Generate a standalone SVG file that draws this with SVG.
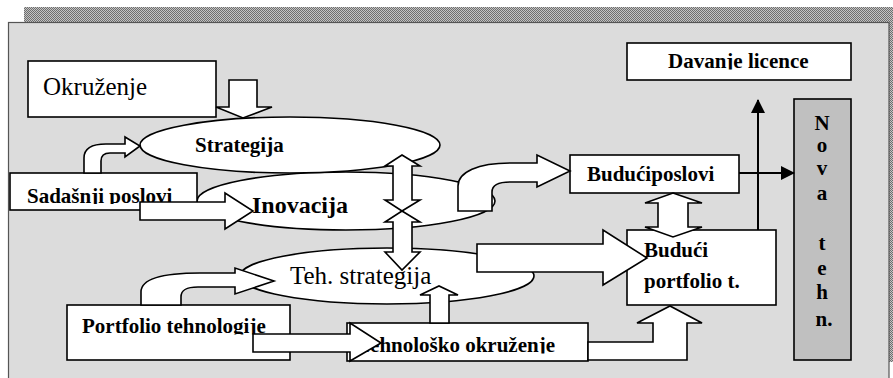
<svg xmlns="http://www.w3.org/2000/svg" width="893" height="378" viewBox="0 0 893 378">
  <defs>
    <pattern id="dots" width="2" height="2" patternUnits="userSpaceOnUse">
      <rect width="2" height="2" fill="#c4c4c4"/>
      <rect x="0" y="0" width="1" height="1" fill="#6e6e6e"/>
      <rect x="1" y="1" width="1" height="1" fill="#6e6e6e"/>
    </pattern>
    <clipPath id="clipSad"><rect x="10" y="170" width="190" height="34"/></clipPath>
    <clipPath id="clipPort"><rect x="67" y="300" width="225" height="34.5"/></clipPath>
    <clipPath id="clipTeh"><rect x="347" y="320" width="242" height="33.5"/></clipPath>
    <clipPath id="clipDav"><rect x="627" y="40" width="225" height="29.5"/></clipPath>
    <marker id="ah" viewBox="0 0 14 14" refX="13" refY="7" markerWidth="14" markerHeight="14" markerUnits="userSpaceOnUse" orient="auto">
      <path d="M0,0 L14,7 L0,14 Z" fill="#000"/>
    </marker>
  </defs>
  <style>
    .box { fill: #ffffff; stroke: #000; stroke-width: 1.6; }
    .ell { fill: #ffffff; stroke: #000; stroke-width: 1.6; }
    .blk { fill: #ffffff; stroke: #000; stroke-width: 1.6; stroke-linejoin: miter; }
    .ln { fill: none; stroke: #000; stroke-width: 2; }
    .b { font-family: "Liberation Serif", "Times New Roman", serif; font-weight: bold; font-size: 21px; fill: #000; }
    .r { font-family: "Liberation Serif", "Times New Roman", serif; font-size: 25px; fill: #000; }
    .nv { font-family: "Liberation Serif", "Times New Roman", serif; font-weight: bold; font-size: 21px; fill: #000; text-anchor: middle; }
  </style>

  <!-- background panel with dotted shadow -->
  <rect x="0" y="0" width="893" height="378" fill="#ffffff"/>
  <rect x="24" y="7" width="869" height="15" fill="url(#dots)"/>
  <rect x="889" y="7" width="4" height="355" fill="url(#dots)"/>
  <rect x="8.5" y="22.5" width="880.5" height="360" fill="#dcdcdc" stroke="#555" stroke-width="1.2"/>

  <g id="okruzenje">
    <rect class="box" x="28" y="61" width="188" height="56"/>
    <text class="r" x="43" y="95">Okruženje</text>
  </g>

  <g id="inovacija">
    <ellipse class="ell" cx="346" cy="201" rx="149" ry="29"/>
  </g>

  <g id="strategija">
    <ellipse class="ell" cx="290" cy="145" rx="150" ry="28"/>
    <text class="b" x="195" y="152">Strategija</text>
  </g>

  <g id="teh-strategija">
    <ellipse class="ell" cx="387" cy="276" rx="147" ry="28"/>
    <text class="r" x="290" y="284">Teh. strategija</text>
  </g>

  <g id="sadasnji-poslovi">
    <rect class="box" x="10" y="173" width="187" height="37"/>
    <text class="b" x="27" y="203" clip-path="url(#clipSad)">Sadašnji poslovi</text>
  </g>

  <g id="portfolio-tehnologije">
    <rect class="box" x="67" y="305" width="223" height="55"/>
    <text class="b" x="82" y="333" clip-path="url(#clipPort)">Portfolio tehnologije</text>
  </g>

  <g id="tehnolosko-okruzenje">
    <rect class="box" x="347" y="323" width="241" height="38"/>
    <text class="b" x="358" y="352" clip-path="url(#clipTeh)">Tehnološko okruženje</text>
  </g>

  <g id="davanje-licence">
    <rect class="box" x="627" y="43" width="224" height="37"/>
    <text class="b" x="668" y="68" clip-path="url(#clipDav)">Davanje licence</text>
  </g>

  <g id="buduci-poslovi">
    <rect class="box" x="570" y="155" width="169" height="38"/>
    <text class="b" x="587" y="181">Budućiposlovi</text>
  </g>

  <g id="buduci-portfolio">
    <rect class="box" x="627" y="230" width="149" height="75"/>
  </g>

  <g id="nova-tehn">
    <rect x="794" y="99" width="57" height="261" fill="#c0c0c0" stroke="#000" stroke-width="1.6"/>
    <text class="nv" x="822" y="130">N</text>
    <text class="nv" x="822" y="152">o</text>
    <text class="nv" x="822" y="175">v</text>
    <text class="nv" x="822" y="200">a</text>
    <text class="nv" x="822" y="250">t</text>
    <text class="nv" x="822" y="275">e</text>
    <text class="nv" x="822" y="299">h</text>
    <text class="nv" x="824" y="326">n.</text>
  </g>

  <g id="connectors">
    <!-- Okruzenje -> Strategija -->
    <path class="blk" d="M229,80 H257 V107 H272 L243,118 L216,107 H229 Z"/>
    <!-- Sadasnji -> Strategija (curved) -->
    <path class="blk" d="M84,173 V158 C84,148 92,144 106,144 H125 V137 L140,146 L125,157 V153 H110 C104,153 101,155 101,161 V173 Z"/>
    <!-- Sadasnji -> Inovacija -->
    <path class="blk" d="M140,202 H225 V193 L253,211 L225,229 V220 H140 Z"/>
    <!-- Inovacija -> Buduci poslovi (curved) -->
    <path class="blk" d="M458,211 V186 C458,172 478,163 510,163 H537 V155 L570,171 L537,187 V182 H510 C498,182 492,185 492,192 V211 Z"/>
    <!-- Portfolio -> Teh. strategija (curved) -->
    <path class="blk" d="M141,305 V292 C141,280 160,273 200,273 H235 V268 L274,281 L235,294 V287 H198 C186,287 181,290 181,297 V305 Z"/>
    <!-- Teh. strategija -> Buduci portfolio -->
    <path class="blk" d="M477,244 H603 V230 L647,258 L603,285 V272 H477 Z"/>
    <!-- Portfolio -> Tehnolosko -->
    <path class="blk" d="M253,334 H350 V323 L381,343 L350,361 V352 H253 Z"/>
    <!-- Tehnolosko -> Teh. strategija -->
    <path class="blk" d="M430,323 V295 H420 L439,286 L458,295 H449 V323 Z"/>
    <!-- Tehnolosko -> Buduci portfolio (bent) -->
    <path class="blk" d="M588,342 H653 V323 H637 L670,306 L702,323 H687 V360 H588 Z"/>
    <!-- Strategija <-> Inovacija -->
    <path class="blk" d="M402,155 L420,166 H412 V200 H420 L402,211 L385,200 H393 V166 H385 Z"/>
    <!-- Inovacija <-> Teh. strategija -->
    <path class="blk" d="M402,211 L420,222 H412 V252 H420 L402,270 L385,252 H393 V222 H385 Z"/>
    <!-- Buduci poslovi <-> Buduci portfolio -->
    <path class="blk" d="M673,193 L702,203 H688 V227 H702 L673,237 L645,227 H658 V203 H645 Z"/>
    <!-- Buduci poslovi -> Nova tehn. -->
    <line class="ln" x1="739" y1="173" x2="794" y2="173" marker-end="url(#ah)"/>
    <!-- Buduci portfolio -> Davanje licence -->
    <line class="ln" x1="758" y1="230" x2="758" y2="100" marker-end="url(#ah)"/>
  </g>

  <g id="labels-top">
    <text class="b" x="252" y="213" style="font-size:24px">Inovacija</text>
    <text class="b" x="644" y="257">Budući</text>
    <text class="b" x="644" y="288">portfolio t.</text>
  </g>
</svg>
